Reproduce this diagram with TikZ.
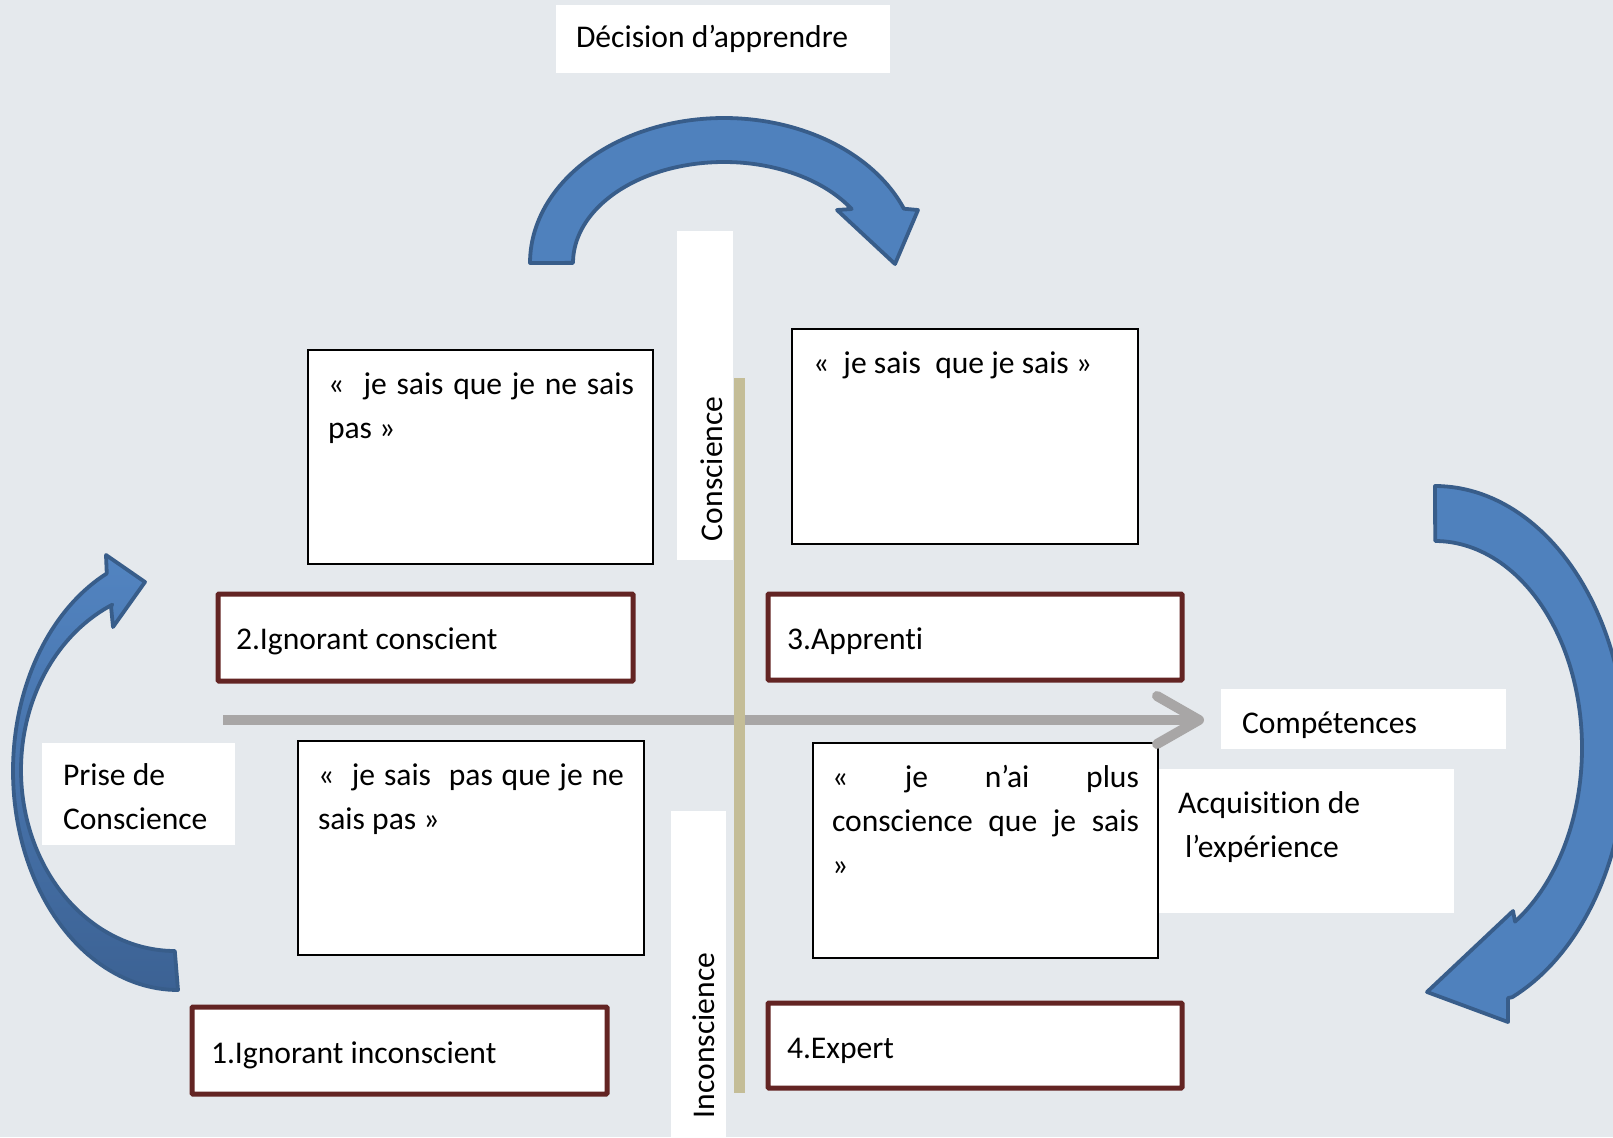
\documentclass[tikz,border=0pt]{standalone}
\usepackage{fontspec}
\setmainfont{Carlito}[Ligatures=NoCommon]
\usetikzlibrary{calc}
\definecolor{bgc}{RGB}{229,233,237}
\definecolor{arrfill}{RGB}{79,129,189}
\definecolor{arrline}{RGB}{56,93,138}
\definecolor{arrtop}{RGB}{82,132,193}
\definecolor{arrbot}{RGB}{60,98,148}
\definecolor{redline}{RGB}{99,36,35}
\definecolor{axisv}{RGB}{196,189,151}
\definecolor{axish}{RGB}{168,166,166}
\begin{document}
\begin{tikzpicture}[x=1pt,y=-1pt,
  every node/.style={font=\fontsize{31.6}{44}\selectfont, outer sep=0pt},
  quotebox/.style={draw=black, line width=1.3pt, fill=white, inner sep=0pt, anchor=north west},
  levelbox/.style={draw=redline, line width=5pt, fill=white, inner sep=0pt, anchor=north west, rounded corners=1pt},
  labelbox/.style={fill=white, inner sep=0pt, anchor=north west},
  txt/.style={inner sep=0pt, anchor=base west},
  bluearrow/.style={fill=arrfill, draw=arrline, line width=3.8pt, line join=round},
  shadearrow/.style={top color=arrtop, bottom color=arrbot, draw=arrline, line width=3.8pt, line join=round},
  haxis/.style={draw=axish, line width=10pt},
  vaxis/.style={draw=axisv, line width=11pt},
]
\useasboundingbox (0,0) rectangle (1613,1137);
\fill[bgc] (0,0) rectangle (1613,1137);
\clip (0,0) rectangle (1613,1137);

% curved arrows
\path[bluearrow] (530,263)
  -- plot[domain=0:1,samples=90,variable=\s] ({724+194*cos(180-158.1*\s)},{263-145*sin(180-158.1*\s)})
  -- (918,210) -- (895,264) -- (837,210)
  -- plot[domain=0:1,samples=90,variable=\s] ({724+151*cos(32.3+147.7*\s)},{263-101*sin(32.3+147.7*\s)})
  -- cycle;

\path[shadearrow] (178,990)
  -- plot[domain=0:1,samples=90,variable=\s] ({178+165*cos(270-154.5*\s)},{771-219*sin(270-154.5*\s)})
  -- (106,555) -- (145,582) -- (113,627) -- (111,606)
  -- plot[domain=0:1,samples=90,variable=\s] ({175+154*cos(114+156*\s)},{770-181*sin(114+156*\s)})
  -- cycle;

\path[bluearrow] (1435,486)
  -- plot[domain=0:1,samples=90,variable=\s] ({1435+191*cos(90-156.2*\s)},{753-267*sin(90-156.2*\s)})
  -- (1508,998) -- (1508,1022) -- (1427,992) -- (1513,911)
  -- plot[domain=0:1,samples=90,variable=\s] ({1435+147*cos(-57+147*\s)},{748-207*sin(-57+147*\s)})
  -- cycle;

% label boxes
\node[labelbox, minimum width=334pt, minimum height=68pt] (bdec) at (556,5) {};
\node[labelbox, minimum width=56pt, minimum height=329pt] (bcons) at (677,231) {};
\node[labelbox, minimum width=55pt, minimum height=330pt] (bincons) at (671,811) {};
\node[labelbox, minimum width=285pt, minimum height=60pt] (bcomp) at (1221,689) {};
\node[labelbox, minimum width=295pt, minimum height=144pt] (bacq) at (1159,769) {};
\node[labelbox, minimum width=193pt, minimum height=102pt] (bprise) at (42,743) {};

% quote boxes
\node[quotebox, minimum width=345pt, minimum height=214pt] (qA) at (308,350) {};
\node[quotebox, minimum width=346pt, minimum height=215pt] (qB) at (792,329) {};
\node[quotebox, minimum width=346pt, minimum height=214pt] (qC) at (298,741) {};
\node[quotebox, minimum width=345pt, minimum height=215pt] (qD) at (813,743) {};

% level boxes
\node[levelbox, minimum width=415pt, minimum height=87pt] (l2) at (218,594) {};
\node[levelbox, minimum width=414pt, minimum height=86pt] (l3) at (768,594) {};
\node[levelbox, minimum width=415pt, minimum height=87pt] (l1) at (192,1007) {};
\node[levelbox, minimum width=414pt, minimum height=85pt] (l4) at (768,1003) {};

% axes
\coordinate (hstart) at (223,720);
\coordinate (htip) at (1199,720);
\draw[haxis] (hstart) -- ($(htip)+(-6,0)$);
\draw[haxis, line cap=round, line join=round] ($(htip)+(-42,-24)$) -- (htip) -- ($(htip)+(-42,24)$);
\coordinate (vtop) at (739.5,378);
\coordinate (vbot) at (739.5,1093);
\draw[vaxis] (vtop) -- (vbot);

% texts
\node[txt] (tdec) at (576,48) {Décision d’apprendre};
\node[txt, rotate=90] (tcons) at (722,541) {Conscience};
\node[txt, rotate=90] (tincons) at (714,1118) {Inconscience};
\node[txt] (tcomp) at (1242,733.5) {Compétences};
\node[txt] (tacq) at (1178,813) {\parbox[t]{270pt}{Acquisition de\\\hspace*{7pt}l’expérience}};
\node[txt] (tprise) at (63,785) {\parbox[t]{170pt}{Prise de\\Conscience}};

\node[txt] (tA) at (328,394) {\parbox[t]{306pt}{\makebox[306pt][s]{«\ \ je sais que je ne sais}\\pas »}};
\node[txt] (tB) at (813,373) {«\ \ je sais\ \ que je sais »};
\node[txt] (tC) at (318,785) {\parbox[t]{306pt}{\makebox[306pt][s]{«\ \ je sais\ \ pas que je ne}\\sais pas »}};
\node[txt] (tD) at (832,787) {\parbox[t]{307pt}{\makebox[307pt][s]{« je n’ai plus}\\\makebox[307pt][s]{conscience que je sais}\\»}};

\node[txt] (tl2) at (236,649) {2.Ignorant conscient};
\node[txt] (tl3) at (787,649) {3.Apprenti};
\node[txt] (tl1) at (211,1063) {1.Ignorant inconscient};
\node[txt] (tl4) at (787,1058) {4.Expert};
\end{tikzpicture}
\end{document}
